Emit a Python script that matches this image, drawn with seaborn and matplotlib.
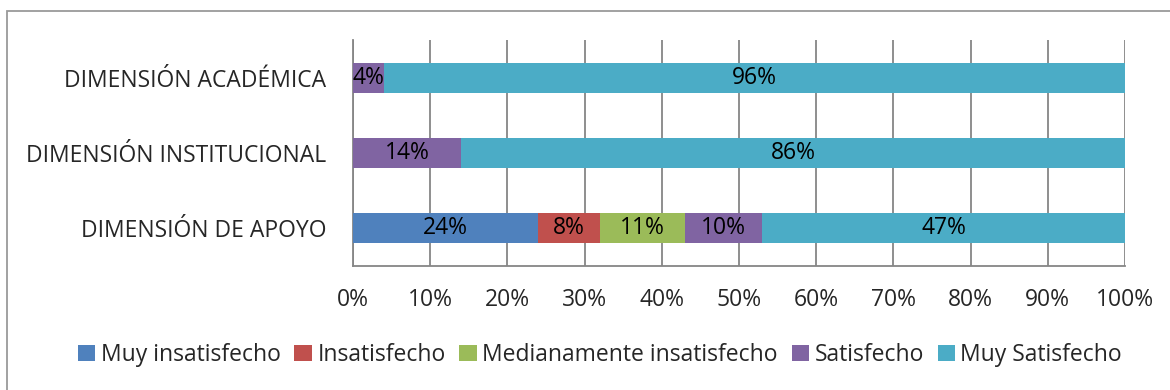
import matplotlib
matplotlib.use("Agg")
import matplotlib.pyplot as plt
from matplotlib.patches import Rectangle
import seaborn as sns
import pandas as pd
import numpy as np

categories = ["DIMENSIÓN ACADÉMICA", "DIMENSIÓN INSTITUCIONAL", "DIMENSIÓN DE APOYO"]
levels = ["Muy insatisfecho", "Insatisfecho", "Medianamente insatisfecho",
          "Satisfecho", "Muy Satisfecho"]
muy_insatisfecho = [0, 0, 24]
insatisfecho = [0, 0, 8]
medianamente = [0, 0, 11]
satisfecho = [4, 14, 10]
muy_satisfecho = [96, 86, 47]
x_ticks = [0, 10, 20, 30, 40, 50, 60, 70, 80, 90, 100]
colors = ["#4F81BD", "#C0504D", "#9BBB59", "#8064A2", "#4BACC6"]

sns.set_theme(style="white")
plt.rcParams["font.family"] = ["Open Sans", "DejaVu Sans"]
FS = 16.5
GRID = "#868686"

series = [muy_insatisfecho, insatisfecho, medianamente, satisfecho, muy_satisfecho]

# long-form table, cumulative right edges per category for stacked drawing
rows = []
for lvl, vals in zip(levels, series):
    for cat, v in zip(categories, vals):
        rows.append({"cat": cat, "level": lvl, "value": v})
df = pd.DataFrame(rows)
df["right"] = df.groupby("cat", sort=False)["value"].cumsum()
df["left"] = df["right"] - df["value"]

fig = plt.figure(figsize=(11.7, 3.9), dpi=100)
ax = fig.add_axes([353 / 1170, 1 - 265.5 / 390, (1125 - 353) / 1170, 225.5 / 390])

# outer chart frame
fig.patches.append(Rectangle((6.5 / 1170, -0.1), 1.2, 1 - 10.5 / 390 + 0.1,
                             transform=fig.transFigure, fill=False,
                             edgecolor="#9a9a9a", linewidth=1.3, zorder=0))

# draw from the last segment backwards so earlier segments sit on top
for lvl, col in reversed(list(zip(levels, colors))):
    sub = df[df["level"] == lvl]
    sns.barplot(data=sub, x="right", y="cat", order=categories, color=col,
                saturation=1, width=0.4, orient="h", ax=ax, label=lvl,
                linewidth=0, zorder=3)

for _, r in df.iterrows():
    if r["value"] > 0:
        ax.text(r["left"] + r["value"] / 2, categories.index(r["cat"]),
                f"{int(r['value'])}%", ha="center", va="center",
                fontsize=FS, color="black", zorder=4)

ax.set_xlim(0, 100)
ax.set_ylim(2.5, -0.5)
ax.set_xticks(x_ticks)
ax.set_xticklabels([f"{t}%" for t in x_ticks], fontsize=FS)
ax.set_yticks(range(len(categories)))
ax.set_yticklabels(categories, fontsize=FS)
ax.set_yticks([-0.5, 0.5, 1.5, 2.5], minor=True)
ax.tick_params(axis="y", which="major", length=0, pad=19)
ax.tick_params(axis="y", which="minor", length=7, width=1.3, color=GRID, direction="out")
ax.tick_params(axis="x", which="major", length=7, width=1.3, color=GRID,
               direction="out", pad=9)
ax.grid(axis="x", color=GRID, linewidth=1.3, zorder=0)
ax.set_axisbelow(True)
for s in ["top", "right"]:
    ax.spines[s].set_visible(False)
for s in ["left", "bottom"]:
    ax.spines[s].set_color(GRID)
    ax.spines[s].set_linewidth(1.3)
ax.set_xlabel("")
ax.set_ylabel("")

handles, labels = ax.get_legend_handles_labels()
order = [labels.index(l) for l in levels]
leg = ax.get_legend()
if leg is not None:
    leg.remove()
fig.legend([handles[i] for i in order], levels, loc="center",
           bbox_to_anchor=(600 / 1170, 1 - 355 / 390),
           ncol=5, frameon=False, fontsize=FS, handlelength=0.75, handleheight=0.75,
           handletextpad=0.25, columnspacing=0.6)

fig.savefig("out.png", dpi=100)
